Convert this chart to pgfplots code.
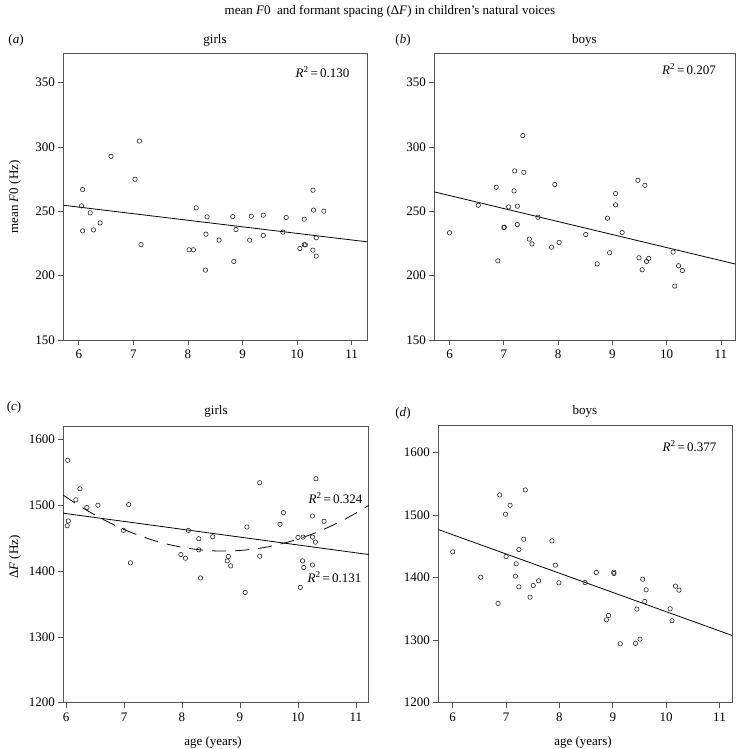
\documentclass[border=0pt]{standalone}
\usepackage{fontspec}
\setmainfont{Liberation Serif}
\usepackage{pgfplots}
\pgfplotsset{compat=1.18}
\definecolor{framec}{HTML}{555555}
\pgfplotsset{
  panel/.style={
    scale only axis,
    axis line style={draw=framec, line width=0.8pt},
    every tick/.style={draw=framec, line width=0.7pt},
    tick align=outside,
    major tick length=5pt,
    xtick pos=bottom, ytick pos=left,
    xtick={6,7,8,9,10,11},
    tick label style={font=\fontsize{13}{15}\selectfont},
    x tick label style={yshift=-1.5pt},
    /pgf/number format/assume math mode=true,
    /pgf/number format/set thousands separator={},
  },
  pts/.style={only marks, mark=o, mark size=2.2pt, mark options={line width=0.6pt, draw=black!85}},
  fitl/.style={black, line width=0.8pt, no marks},
}
\begin{document}
\begin{tikzpicture}[font=\fontsize{13}{15}\selectfont]
\useasboundingbox (0pt,0pt) rectangle (737pt,749pt);
% (a)
\begin{axis}[panel, at={(63.5pt,409pt)}, anchor=south west, width=303.5pt, height=286.7pt,
  xmin=5.72, xmax=11.28, ymin=150, ymax=372.8, ytick={150,200,250,300,350}]
\addplot[pts] coordinates {(6.07,266.9) (6.05,254.2) (6.21,248.8) (6.07,234.8) (6.27,235.6) (6.39,241.0) (6.59,292.7) (7.03,274.9) (7.11,304.6) (7.14,224.2) (8.02,220.1) (8.10,220.1) (8.15,252.7) (8.35,245.7) (8.33,232.2) (8.32,204.3) (8.57,227.6) (8.82,245.9) (8.88,235.9) (8.84,211.0) (9.13,227.6) (9.16,246.2) (9.38,247.0) (9.38,231.2) (9.74,233.8) (9.80,245.2) (10.05,221.1) (10.13,224.0) (10.15,224.0) (10.13,243.9) (10.29,266.4) (10.30,250.9) (10.29,219.8) (10.35,229.4) (10.35,215.2) (10.49,250.1)};
\addplot[fitl] coordinates {(5.72,254.7) (11.28,226.3)};
\end{axis}
% (b)
\begin{axis}[panel, at={(434.3pt,409pt)}, anchor=south west, width=300.7pt, height=286.7pt,
  xmin=5.72, xmax=11.26, ymin=150, ymax=372.8, ytick={150,200,250,300,350}]
\addplot[pts] coordinates {(6.00,233.3) (6.53,254.7) (6.86,268.7) (6.89,211.5) (7.00,237.4) (7.01,237.7) (7.09,253.4) (7.19,265.9) (7.20,281.4) (7.25,254.0) (7.25,239.7) (7.35,308.8) (7.37,280.3) (7.47,228.4) (7.52,224.7) (7.63,245.4) (7.88,222.1) (7.94,270.8) (8.02,225.8) (8.51,232.0) (8.72,209.2) (8.91,244.6) (8.95,217.8) (9.06,263.8) (9.06,255.0) (9.18,233.5) (9.47,274.1) (9.49,213.9) (9.55,204.6) (9.60,270.2) (9.63,211.0) (9.67,213.4) (10.12,218.3) (10.15,191.9) (10.22,207.7) (10.29,204.0)};
\addplot[fitl] coordinates {(5.72,265.1) (11.26,209.1)};
\end{axis}
% (c)
\begin{axis}[panel, at={(63.3pt,46.3pt)}, anchor=south west, width=305.4pt, height=276pt,
  xmin=5.953, xmax=11.22, ymin=1200, ymax=1619.5, ytick={1200,1300,1400,1500,1600}]
\addplot[pts] coordinates {(6.03,1568.4) (6.24,1525.1) (6.17,1508.3) (6.36,1496.6) (6.55,1500.1) (6.04,1476.2) (6.02,1469.0) (7.08,1501.1) (6.99,1461.9) (7.11,1412.5) (8.11,1461.9) (7.98,1425.2) (8.06,1419.6) (8.29,1449.2) (8.29,1432.4) (8.32,1389.6) (8.53,1452.2) (8.80,1422.2) (8.78,1415.5) (8.84,1407.9) (9.09,1367.6) (9.12,1467.0) (9.34,1534.3) (9.34,1422.7) (9.69,1471.1) (9.75,1488.9) (10.00,1451.2) (10.09,1451.7) (10.04,1375.3) (10.08,1415.5) (10.10,1405.4) (10.25,1483.8) (10.25,1451.7) (10.30,1444.1) (10.31,1540.4) (10.25,1409.4) (10.45,1475.7)};
\addplot[fitl] coordinates {(5.953,1488.0) (11.22,1425.2)};
\addplot[black, line width=0.8pt, no marks, smooth, dash pattern=on 14pt off 9pt] coordinates {(5.953,1515.5) (6.0,1512.6) (6.25,1498.2) (6.5,1485.2) (6.75,1473.6) (7.0,1463.3) (7.25,1454.5) (7.5,1447.0) (7.75,1440.9) (8.0,1436.3) (8.25,1433.0) (8.5,1431.0) (8.75,1430.5) (9.0,1431.4) (9.25,1433.6) (9.5,1437.2) (9.75,1442.3) (10.0,1448.7) (10.25,1456.5) (10.5,1465.7) (10.75,1476.2) (11.0,1488.2) (11.22,1499.9)};
\end{axis}
% (d)
\begin{axis}[panel, at={(438.3pt,46.3pt)}, anchor=south west, width=294pt, height=277pt,
  xmin=5.73, xmax=11.24, ymin=1200, ymax=1642.5, ytick={1200,1300,1400,1500,1600}]
\addplot[pts] coordinates {(6.00,1441.0) (6.525,1400.5) (6.88,1531.9) (6.85,1358.5) (7.075,1515.4) (6.99,1501.1) (7.00,1433.5) (7.36,1539.9) (7.33,1461.2) (7.24,1444.7) (7.19,1421.8) (7.175,1402.1) (7.24,1385.1) (7.45,1368.6) (7.51,1387.2) (7.61,1394.7) (7.86,1458.5) (7.925,1419.7) (7.99,1391.5) (8.48,1392.0) (8.69,1408.0) (8.88,1332.4) (8.92,1339.4) (9.02,1408.5) (9.02,1406.4) (9.14,1294.1) (9.425,1294.7) (9.51,1301.6) (9.45,1349.5) (9.56,1397.3) (9.60,1361.7) (9.625,1380.3) (10.075,1350.0) (10.11,1330.9) (10.175,1386.2) (10.24,1379.8)};
\addplot[fitl] coordinates {(5.73,1476.6) (11.24,1307.3)};
\end{axis}
% texts
\node at (390pt,738pt) {mean \textit{F}0\ \ and formant spacing (Δ\textit{F}) in children’s natural voices};
\node at (16pt,709pt) {(\textit{a})};
\node at (215pt,709pt) {girls};
\node at (403pt,709pt) {(\textit{b})};
\node at (584.5pt,709pt) {boys};
\node at (14pt,342pt) {(\textit{c})};
\node at (216pt,338pt) {girls};
\node at (403pt,336pt) {(\textit{d})};
\node at (585pt,338pt) {boys};
\node[rotate=90] at (15pt,552pt) {mean \textit{F}0 (Hz)};
\node[rotate=90] at (15pt,192pt) {Δ\textit{F} (Hz)};
\node at (213pt,7pt) {age (years)};
\node at (583pt,7pt) {age (years)};
\node[anchor=east] at (353pt,677pt) {\textit{R}\textsuperscript{2}\,=\,0.130};
\node[anchor=east] at (719.5pt,680pt) {\textit{R}\textsuperscript{2}\,=\,0.207};
\node[anchor=east] at (366pt,251pt) {\textit{R}\textsuperscript{2}\,=\,0.324};
\node[anchor=east] at (365pt,172pt) {\textit{R}\textsuperscript{2}\,=\,0.131};
\node[anchor=east] at (720pt,303pt) {\textit{R}\textsuperscript{2}\,=\,0.377};
\end{tikzpicture}
\end{document}
